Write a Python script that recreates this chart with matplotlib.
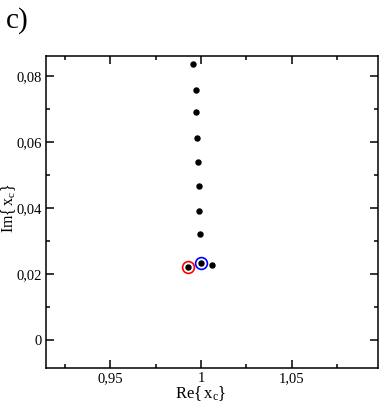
import numpy as np
import matplotlib
matplotlib.use("Agg")
import matplotlib.pyplot as plt
from matplotlib.ticker import MultipleLocator, FuncFormatter

plt.rcParams['font.family'] = ['Liberation Serif', 'DejaVu Serif']
plt.rcParams['mathtext.fontset'] = 'custom'
plt.rcParams['mathtext.rm'] = 'Liberation Serif'
plt.rcParams['mathtext.it'] = 'Liberation Serif'

# zeros of the partition function (black dots)
re_zeros = [0.9956, 0.9973, 0.9974, 0.9978, 0.9984, 0.9989, 0.9990, 0.9995,
            1.0060, 0.9929, 1.0000]
im_zeros = [0.0836, 0.0758, 0.0691, 0.0612, 0.0539, 0.0467, 0.0391, 0.0321,
            0.0227, 0.0221, 0.0233]

# highlighted zeros
re_red, im_red = [0.9929], [0.0221]
re_blue, im_blue = [1.0000], [0.0233]

fig = plt.figure(figsize=(3.82, 4.04), dpi=100)
ax = fig.add_axes([46/382, 36/404, 332/382, 312/404])

ax.plot(re_zeros, im_zeros, 'o', color='black', markersize=3.6, zorder=3)
ax.plot(re_red, im_red, 'o', mfc='none', mec='red', mew=1.2, markersize=8.5, zorder=4)
ax.plot(re_blue, im_blue, 'o', mfc='none', mec='blue', mew=1.2, markersize=8.5, zorder=4)

ax.set_xlim(0.9148, 1.0973)
ax.set_ylim(-0.0085, 0.0861)

ax.xaxis.set_major_locator(MultipleLocator(0.05))
ax.xaxis.set_minor_locator(MultipleLocator(0.025))
ax.yaxis.set_major_locator(MultipleLocator(0.02))
ax.yaxis.set_minor_locator(MultipleLocator(0.01))

def comma_fmt(v, pos):
    s = f"{v:.2f}".rstrip('0').rstrip('.')
    if s in ('-0', '0.'):
        s = '0'
    return s.replace('.', ',')

ax.xaxis.set_major_formatter(FuncFormatter(comma_fmt))
ax.yaxis.set_major_formatter(FuncFormatter(comma_fmt))

ax.tick_params(which='both', direction='in', top=True, right=True, width=1.1,
               labelsize=10.5, pad=3)
ax.tick_params(which='major', length=6)
ax.tick_params(which='minor', length=3)
for sp in ax.spines.values():
    sp.set_linewidth(1.1)

ax.set_xlabel(r'$\mathrm{Re\{\,x_c\}}$', fontsize=12)
ax.set_ylabel(r'$\mathrm{Im\{\,x_c\}}$', fontsize=11.5)
ax.xaxis.set_label_coords(0.467, -0.052)
ax.yaxis.set_label_coords(-0.084, 0.513)

fig.text(6/382, 1 - 7/404, 'c)', fontsize=21, va='top', ha='left')

fig.savefig('out.png', dpi=100)
